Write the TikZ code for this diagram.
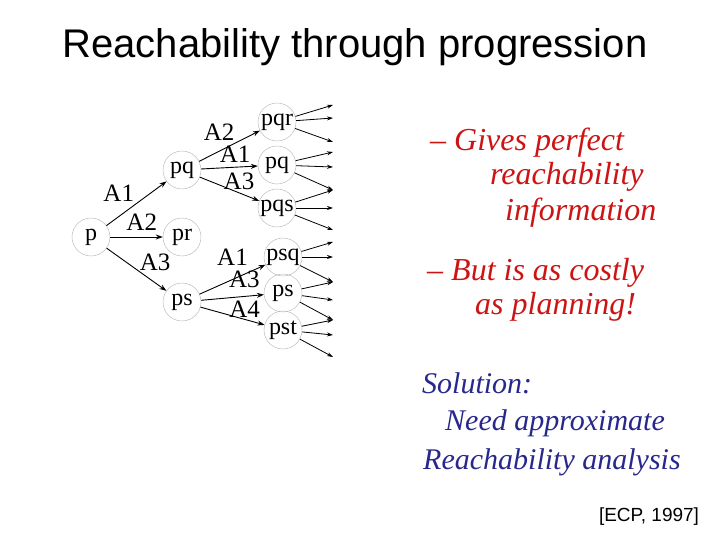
\documentclass[tikz,border=0pt]{standalone}
\usepackage{fontspec}
\setmainfont{Liberation Serif}
\newfontfamily\sansfont{Liberation Sans}
\usetikzlibrary{arrows.meta}

\definecolor{inkred}{RGB}{205,20,20}
\definecolor{inkblue}{RGB}{40,40,140}

\tikzset{
  state/.style={circle,draw=black!30,thin,inner sep=0pt,minimum size=38pt,
    font=\fontsize{24}{24}\selectfont},
  act/.style={-{Stealth[length=7pt,width=5pt]},line width=0.9pt},
  leaf/.style={-{Stealth[length=6pt,width=4pt]},line width=0.8pt},
  lbl/.style={font=\fontsize{25}{25}\selectfont,inner sep=0pt},
  ink/.style={anchor=west,inner sep=0pt,font=\itshape\fontsize{32}{32}\selectfont},
  note/.style={ink,font=\itshape\fontsize{30}{30}\selectfont}
}

\begin{document}
\begin{tikzpicture}[x=1pt,y=-1pt]
   \useasboundingbox (0,0) rectangle (720,540);
   % title
   \node [font=\sansfont\fontsize{40}{40}\selectfont] (title) at (355,47)
   {Reachability through progression};
   % states of the progression tree
   \node [state] (p) at (91,237) {p};
   \node [state] (pq) at (182,170) {pq};
   \node [state] (pr) at (182,237) {pr};
   \node [state] (ps) at (182,302) {ps};
   \node [state] (pqr) at (277,122) {pqr};
   \node [state] (pq2) at (277,165) {pq};
   \node [state] (pqs) at (277,208) {pqs};
   \node [state] (psq) at (283,257) {psq};
   \node [state] (ps2) at (283,293) {ps};
   \node [state] (pst) at (283,330) {pst};
   % actions out of p
   \draw [act] (p) -- (pq) node [lbl,midway,above left=2pt] {A1};
   \draw [act] (p) -- (pr) node [lbl,pos=0.6,above=6pt] {A2};
   \draw [act] (p) -- (ps) node [lbl,pos=0.55,above right=0pt] {A3};
   % actions out of pq and ps
   \draw [act] (pq) -- (pqr) node [lbl,pos=0.33,above=10pt] {A2};
   \draw [act] (pq) -- (pq2) node [lbl,pos=0.6,above=4pt] {A1};
   \draw [act] (pq) -- (pqs) node [lbl,pos=0.66,above=3pt] {A3};
   \draw [act] (ps) -- (psq) node [lbl,pos=0.5,above=14pt] {A1};
   \draw [act] (ps) -- (ps2) node [lbl,pos=0.69,above=8pt] {A3};
   \draw [act] (ps) -- (pst) node [lbl,pos=0.69,above=1pt] {A4};
   % three more actions out of every leaf
   \foreach \s/\a/\b/\c in {pqr/105/118/142,pq2/152/167/190,pqs/190/208/230,
                            psq/242/257/282,ps2/282/300/320,pst/320/335/357} {
       \coordinate (\s-a) at (333,\a);
       \coordinate (\s-b) at (333,\b);
       \coordinate (\s-c) at (333,\c);
       \draw [leaf] (\s) -- (\s-a);
       \draw [leaf] (\s) -- (\s-b);
       \draw [leaf] (\s) -- (\s-c);}
   % notes on the right
   \node [ink,inkred] (gives) at (430,143) {-- Gives perfect};
   \node [ink,inkred] (reach) at (490,177) {reachability};
   \node [ink,inkred] (info) at (505,213) {information};
   \node [ink,inkred] (costly) at (427,273) {-- But is as costly};
   \node [ink,inkred] (plan) at (475,307) {as planning!};
   \node [note,inkblue] (sol) at (422,383) {Solution:};
   \node [note,inkblue] (need) at (445,423) {Need approximate};
   \node [note,inkblue] (anal) at (423,462) {Reachability analysis};
   % citation
   \node [font=\sansfont\fontsize{19}{19}\selectfont] (cite) at (649,517) {[ECP, 1997]};
\end{tikzpicture}
\end{document}
